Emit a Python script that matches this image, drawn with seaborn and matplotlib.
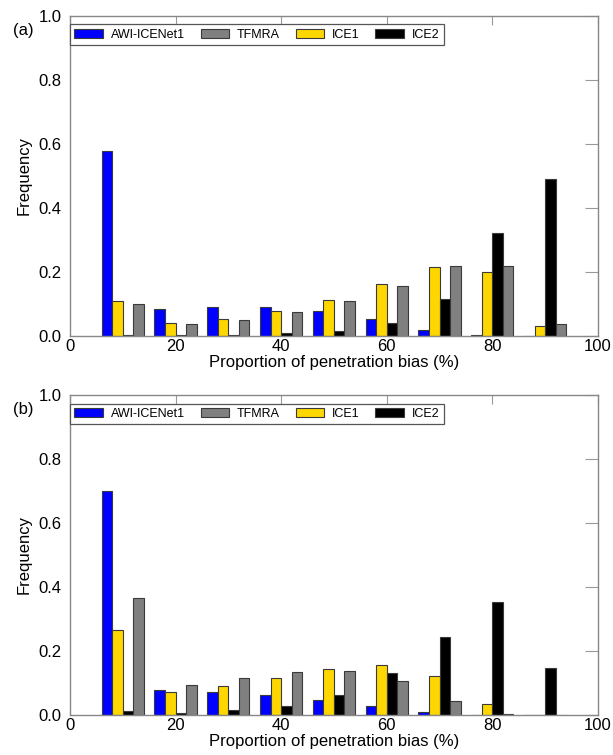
import pandas as pd
import numpy as np
import matplotlib
matplotlib.use("Agg")
import matplotlib.pyplot as plt
import matplotlib.patches as mpatches
import seaborn as sns

# -----------------------------------
# DATA
# -----------------------------------

bins = [10, 20, 30, 40, 50, 60, 70, 80, 90]

# panel (a)
a_awi = [0.579, 0.085, 0.091, 0.091, 0.079, 0.052, 0.020, 0.003, 0.0]
a_ice1 = [0.110, 0.040, 0.052, 0.077, 0.111, 0.161, 0.215, 0.201, 0.032]
a_ice2 = [0.002, 0.002, 0.004, 0.008, 0.017, 0.041, 0.115, 0.321, 0.491]
a_tfmra = [0.099, 0.037, 0.050, 0.074, 0.108, 0.156, 0.219, 0.218, 0.037]

# panel (b)
b_awi = [0.700, 0.078, 0.073, 0.062, 0.048, 0.027, 0.008, 0.001, 0.001]
b_ice1 = [0.267, 0.071, 0.091, 0.115, 0.143, 0.155, 0.122, 0.034, 0.0]
b_ice2 = [0.012, 0.007, 0.016, 0.029, 0.061, 0.130, 0.243, 0.354, 0.148]
b_tfmra = [0.366, 0.093, 0.115, 0.134, 0.137, 0.107, 0.045, 0.004, 0.0]

bar_order = ["AWI-ICENet1", "ICE1", "ICE2", "TFMRA"]
legend_order = ["AWI-ICENet1", "TFMRA", "ICE1", "ICE2"]
colors = {
    "AWI-ICENet1": "#0000ff",
    "TFMRA": "#808080",
    "ICE1": "#ffd700",
    "ICE2": "#000000",
}


def make_frame(awi, ice1, ice2, tfmra):
    rows = []
    for name, vals in zip(bar_order, [awi, ice1, ice2, tfmra]):
        for b, v in zip(bins, vals):
            rows.append({"bin": b, "method": name, "freq": v})
    return pd.DataFrame(rows)


panels = [
    ("(a)", make_frame(a_awi, a_ice1, a_ice2, a_tfmra)),
    ("(b)", make_frame(b_awi, b_ice1, b_ice2, b_tfmra)),
]

# -----------------------------------
# PLOT
# -----------------------------------

sns.set_style("white")
plt.rcParams["font.family"] = ["Liberation Sans", "DejaVu Sans"]
plt.rcParams["font.size"] = 12
plt.rcParams["text.color"] = "black"
plt.rcParams["axes.labelcolor"] = "black"
plt.rcParams["xtick.labelcolor"] = "black"
plt.rcParams["ytick.labelcolor"] = "black"

fig = plt.figure(figsize=(6.13, 7.55), dpi=100)
axes = [
    fig.add_axes([0.114, 0.555, 0.8615, 0.424]),
    fig.add_axes([0.114, 0.053, 0.8615, 0.424]),
]

for ax, (tag, df) in zip(axes, panels):

    sns.barplot(
        data=df,
        x="bin",
        y="freq",
        hue="method",
        hue_order=bar_order,
        palette=colors,
        native_scale=True,
        width=0.8,
        errorbar=None,
        edgecolor="#3a3a3a",
        linewidth=0.8,
        saturation=1,
        legend=False,
        ax=ax,
    )

    ax.set_xlim(0, 100)
    ax.set_ylim(0, 1.0)
    ax.set_xticks([0, 20, 40, 60, 80, 100])
    ax.set_yticks([0.0, 0.2, 0.4, 0.6, 0.8, 1.0])
    ax.set_yticklabels(["0.0", "0.2", "0.4", "0.6", "0.8", "1.0"])

    ax.tick_params(axis="x", direction="in", top=True, length=6.5,
                   color="#999999", labelsize=12, pad=2)
    ax.tick_params(axis="y", direction="in", right=True, length=9.5,
                   color="#999999", labelsize=12, pad=6)

    for sp in ax.spines.values():
        sp.set_color("#888888")
        sp.set_linewidth(1.0)

    ax.set_xlabel("Proportion of penetration bias (%)", fontsize=12, labelpad=1)
    ax.set_ylabel("Frequency", fontsize=12, labelpad=5)

    handles = [
        mpatches.Patch(facecolor=colors[m], edgecolor="#3a3a3a",
                       linewidth=0.8, label=m)
        for m in legend_order
    ]
    leg = ax.legend(
        handles=handles,
        loc="upper left",
        bbox_to_anchor=(0.0, 0.973),
        borderaxespad=0,
        ncol=4,
        fontsize=9,
        frameon=True,
        fancybox=False,
        framealpha=1,
        edgecolor="#555555",
        handlelength=2.3,
        handleheight=0.65,
        handletextpad=0.62,
        columnspacing=1.25,
        borderpad=0.35,
    )
    leg.get_frame().set_linewidth(0.9)

    ax.text(-0.108, 0.955, tag, transform=ax.transAxes, fontsize=12,
            ha="left", va="center")

plt.savefig("out.png", dpi=100)
